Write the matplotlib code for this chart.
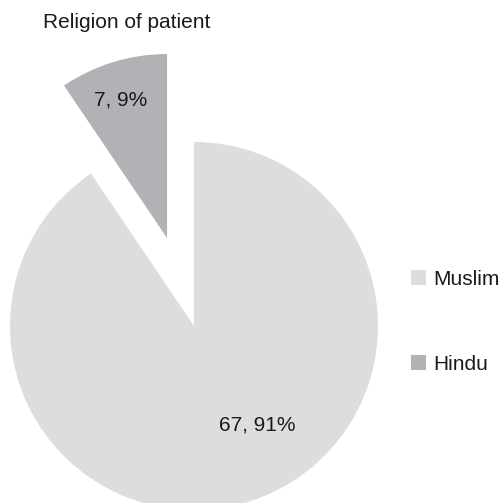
import numpy as np
import matplotlib
matplotlib.use("Agg")
import matplotlib.pyplot as plt

plt.rcParams['font.family'] = ['Liberation Sans', 'DejaVu Sans']

religions = ["Muslim", "Hindu"]
counts = [67, 7]
percents = [91, 9]
colors = ["#dcdddf", "#b1b2b6"]
explode = [0.0, 0.5]

# label spot for each slice: (fraction of radius, angle in degrees) from the wedge centre
label_spots = [(0.64, -57.5), (0.79, 108.5)]

fig = plt.figure(figsize=(5.01, 5.03), dpi=100)
ax = fig.add_axes([0, 0, 1, 1])

wedges, _ = ax.pie(counts, colors=colors, explode=explode, startangle=90,
                   counterclock=False, radius=1.0,
                   wedgeprops=dict(linewidth=0))

for w, c, p, (d, a) in zip(wedges, counts, percents, label_spots):
    cx, cy = w.center
    ax.text(cx + d * np.cos(np.radians(a)), cy + d * np.sin(np.radians(a)),
            f"{c}, {p}%", ha="center", va="center", fontsize=15, color="#1a1a1a")

# pixel layout: pie centre at (194, 326) from top-left, radius 184 px
W, H, r = 501, 503, 184
ax.set_xlim(-194 / r, (W - 194) / r)
ax.set_ylim((326 - H) / r, 326 / r)
ax.set_aspect("equal")
ax.axis("off")

fig.text(127 / W, 1 - 22 / H, "Religion of patient", ha="center", va="center",
         fontsize=15, color="#1a1a1a")

leg = fig.legend(wedges, religions, loc="center left",
                 bbox_to_anchor=(411 / W, 1 - 322 / H), frameon=False,
                 fontsize=15, handlelength=0.72, handleheight=0.72,
                 handletextpad=0.35, labelspacing=3.15, borderpad=0,
                 borderaxespad=0)
for t in leg.get_texts():
    t.set_color("#1a1a1a")

fig.savefig("out.png", dpi=100)
